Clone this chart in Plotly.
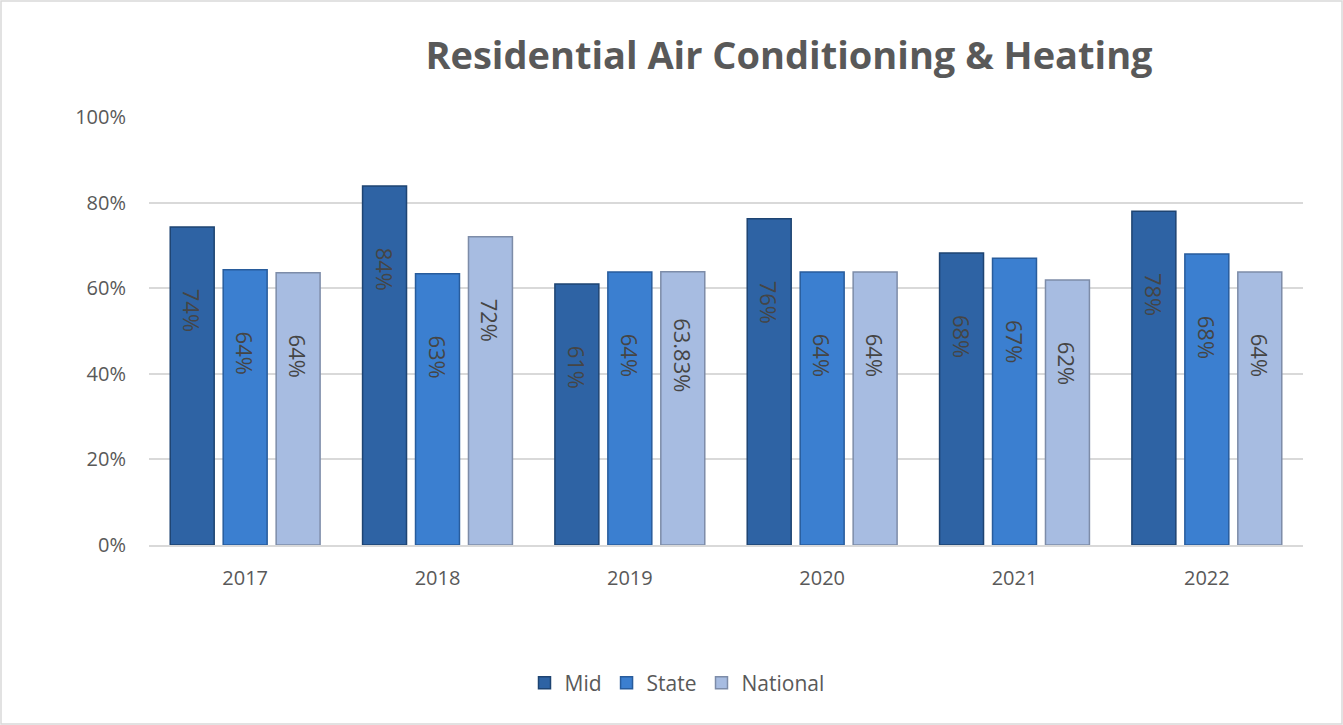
import plotly.graph_objects as go

years = ["2017", "2018", "2019", "2020", "2021", "2022"]
series_names = ["Mid", "State", "National"]
mid = [0.743, 0.839, 0.610, 0.762, 0.682, 0.780]
state = [0.643, 0.634, 0.638, 0.638, 0.670, 0.680]
national = [0.636, 0.720, 0.6383, 0.638, 0.619, 0.638]
mid_labels = ["74%", "84%", "61%", "76%", "68%", "78%"]
state_labels = ["64%", "63%", "64%", "64%", "67%", "68%"]
national_labels = ["64%", "72%", "63.83%", "64%", "62%", "64%"]
y_ticks = [0, 0.2, 0.4, 0.6, 0.8, 1.0]
y_tick_text = ["0%", "20%", "40%", "60%", "80%", "100%"]

fills = ["#2E63A4", "#3B7FD0", "#A7BCE1"]
edges = ["#1E4472", "#285C9C", "#7D8CA8"]
FONT = "'Open Sans', sans-serif"
LABEL_SPAN = 0.39

W, H = 1343, 725
ML, MR, MT, MB = 149, 40, 117, 180
pw = W - ML - MR
ph = H - MT - MB

fig = go.Figure()
for i, (name, vals) in enumerate(zip(series_names, [mid, state, national])):
    fig.add_trace(go.Bar(
        x=years, y=vals, name=name, offsetgroup=str(i),
        marker=dict(color=fills[i], line=dict(color=edges[i], width=1.5)),
        hoverinfo="x+y",
    ))
for i, (vals, labs) in enumerate(zip([mid, state, national],
                                    [mid_labels, state_labels, national_labels])):
    fig.add_trace(go.Bar(
        x=years, y=[LABEL_SPAN] * len(vals), base=[v - LABEL_SPAN for v in vals],
        offsetgroup=str(i), showlegend=False, hoverinfo="skip",
        marker=dict(color="rgba(0,0,0,0)", line=dict(width=0)),
        text=labs, textposition="inside", insidetextanchor="middle",
        textangle=90, constraintext="none",
        textfont=dict(family=FONT, size=22, color="#454545"),
    ))

fig.add_shape(type="rect", xref="paper", yref="paper",
              x0=-(ML - 1) / pw, x1=1 + (MR - 1) / pw,
              y0=-(MB - 1) / ph, y1=1 + (MT - 1) / ph,
              line=dict(color="#D9D9D9", width=1.5), layer="below")

fig.update_layout(
    width=W, height=H,
    margin=dict(l=ML, r=MR, t=MT, b=MB),
    paper_bgcolor="white", plot_bgcolor="white",
    barmode="group", bargap=0.174, bargroupgap=0.17,
    title=dict(text="<b>Residential Air Conditioning & Heating</b>",
               x=(789 - ML) / pw, xanchor="center", xref="paper",
               y=1 - 56 / H, yanchor="middle",
               font=dict(family=FONT, size=38, color="#595959")),
    legend=dict(orientation="h", x=(677 - ML) / pw, xanchor="center",
                y=-138 / ph, yanchor="middle",
                font=dict(family=FONT, size=21, color="#595959"),
                traceorder="normal", itemwidth=30),
    showlegend=True,
)
fig.update_xaxes(type="category", showgrid=False, showline=True,
                 linecolor="#D9D9D9", linewidth=2, ticks="",
                 tickfont=dict(family=FONT, size=20, color="#595959"),
                 ticklabelstandoff=14)
fig.update_yaxes(range=[0, 1], tickvals=y_ticks, ticktext=y_tick_text,
                 showgrid=True, gridcolor="#D9D9D9", gridwidth=2,
                 zeroline=False, showline=False, ticks="",
                 tickfont=dict(family=FONT, size=20, color="#595959"),
                 ticklabelstandoff=22)

fig.write_html("out.html", config={"displayModeBar": False},
               post_script="document.body.style.margin='0';")
